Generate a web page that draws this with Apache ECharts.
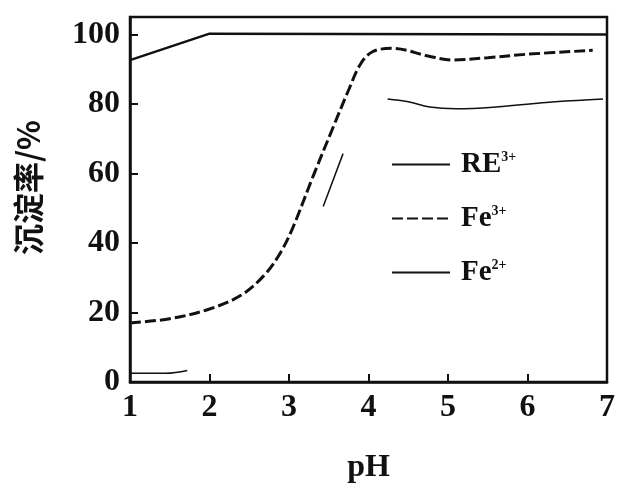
<!DOCTYPE html>
<html>
<head>
<meta charset="utf-8">
<script src="https://cdn.jsdelivr.net/npm/echarts@6/dist/echarts.min.js"></script>
<style>
  html, body { margin: 0; padding: 0; background: #fff; }
  #chart { width: 618px; height: 489px; }
</style>
</head>
<body>
<div id="chart"></div>
<script>
// values: [pH, 沉淀率 %]
var reData = [[1, 92.6], [2, 100.2], [7, 100]];
var fe3Data = [[1, 17], [1.5, 18.2], [2, 21], [2.4, 25], [2.7, 31], [2.9, 37.5],
  [3.05, 44.5], [3.3, 59], [3.55, 73], [3.75, 84], [3.9, 91.5], [4.05, 95],
  [4.3, 96], [4.75, 93.8], [5.05, 92.6], [5.5, 93.3], [6, 94.3], [6.82, 95.4]];
var fe2Data = [[1, 2.5], [1.45, 2.5], [1.72, 3.3], [1.8, '-'],
  [3.43, 50.5], [3.68, 65.7], [3.8, '-'],
  [4.24, 81.4], [4.5, 80.6], [4.77, 79.1], [5.1, 78.6], [5.6, 79.1], [6.35, 80.6], [6.95, 81.4]];
var xTicks = [1, 2, 3, 4, 5, 6, 7];
var yTicks = [0, 20, 40, 60, 80, 100];

var ink = '#111';
var serif = 'Liberation Serif';

var chart = echarts.init(document.getElementById('chart'));
option = {
  animation: false,
  grid: {
    left: 130, right: 6, top: 17, bottom: 104,
    show: true, borderColor: ink, borderWidth: 2.5
  },
  legend: {
    orient: 'vertical',
    left: 386,
    top: 145,
    itemWidth: 58,
    itemHeight: 14,
    itemGap: 25,
    data: ['RE', 'Fe3', 'Fe2'],
    itemStyle: { opacity: 0 },
    formatter: function (name) {
      if (name == 'RE') return '{b|RE}{s|3+}';
      if (name == 'Fe3') return '{b|Fe}{s|3+}';
      return '{b|Fe}{s|2+}';
    },
    textStyle: {
      rich: {
        b: { fontFamily: serif, fontWeight: 'bold', fontSize: 29, color: ink, padding: [0, 0, 0, 6] },
        s: { fontFamily: serif, fontWeight: 'bold', fontSize: 14, color: ink, verticalAlign: 'top', padding: [0, 0, 12, 0] }
      }
    }
  },
  xAxis: {
    type: 'value',
    min: 1, max: 7, interval: 1,
    name: 'pH',
    nameLocation: 'middle',
    nameGap: 70,
    nameTextStyle: { fontFamily: serif, fontWeight: 'bold', fontSize: 32, color: ink },
    axisLine: { lineStyle: { color: ink, width: 2.5 } },
    axisTick: { inside: true, length: 8, lineStyle: { color: ink, width: 2 } },
    axisLabel: {
      margin: 10, fontFamily: serif, fontWeight: 'bold', fontSize: 32, color: ink,
      formatter: function (v) { return xTicks.indexOf(v) >= 0 ? String(v) : ''; }
    },
    splitLine: { show: false }
  },
  yAxis: {
    type: 'value',
    min: 0, max: 105, interval: 20,
    name: '沉淀率/%',
    nameLocation: 'middle',
    nameGap: 86,
    nameTextStyle: { fontFamily: 'Noto Sans CJK SC', fontWeight: 'bold', fontSize: 31, color: ink, padding: [0, 0, 0, 24] },
    axisLine: { lineStyle: { color: ink, width: 2.5 } },
    axisTick: { inside: true, length: 8, lineStyle: { color: ink, width: 2 } },
    axisLabel: {
      margin: 10, fontFamily: serif, fontWeight: 'bold', fontSize: 32, color: ink,
      showMaxLabel: false,
      formatter: function (v) { return yTicks.indexOf(v) >= 0 ? String(v) : ''; }
    },
    splitLine: { show: false }
  },
  series: [
    {
      name: 'RE', type: 'line', symbol: 'none', data: reData,
      lineStyle: { color: ink, width: 2.5 }, itemStyle: { color: ink }
    },
    {
      name: 'Fe3', type: 'line', symbol: 'none', data: fe3Data,
      smooth: 0.35,
      lineStyle: { color: ink, width: 3, type: [11, 4] }, itemStyle: { color: ink }
    },
    {
      name: 'Fe2', type: 'line', symbol: 'none', data: fe2Data,
      smooth: 0.4, connectNulls: false,
      lineStyle: { color: ink, width: 1.5 }, itemStyle: { color: ink }
    }
  ]
};
chart.setOption(option);
</script>
</body>
</html>
